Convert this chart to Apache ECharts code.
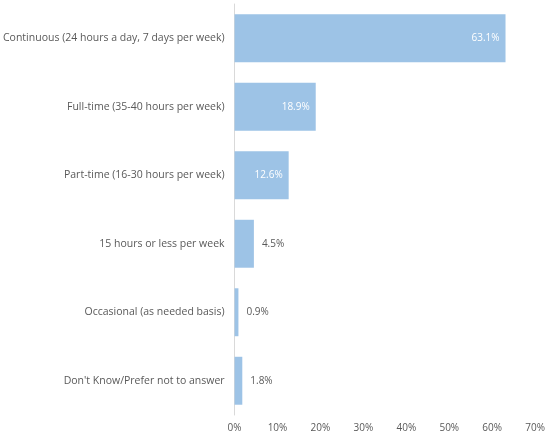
<!DOCTYPE html>
<html>
<head>
<meta charset="utf-8">
<script src="https://cdn.jsdelivr.net/npm/echarts@6/dist/echarts.min.js"></script>
<style>
  html, body { margin: 0; padding: 0; background: #fff; }
  #chart { width: 548px; height: 441px; }
</style>
</head>
<body>
<div id="chart"></div>
<script>
// categories top to bottom
const categories = [
  'Continuous (24 hours a day, 7 days per week)',
  'Full-time (35-40 hours per week)',
  'Part-time (16-30 hours per week)',
  '15 hours or less per week',
  'Occasional (as needed basis)',
  "Don't Know/Prefer not to answer"
]
const values = [63.1, 18.9, 12.6, 4.5, 0.9, 1.8]
// which labels sit inside the bar
const insideLabel = [true, true, true, false, false, false]

const textColor = '#595959'
const barColor = '#9dc3e6'
const font = 'Open Sans'

const chart = echarts.init(document.getElementById('chart'))

chart.setOption({
  animation: false,
  grid: { left: 234, right: 12, top: 4, bottom: 26, containLabel: false },
  xAxis: {
    type: 'value',
    min: 0,
    max: 70,
    interval: 10,
    axisLine: { show: false },
    axisTick: { show: false },
    splitLine: { show: false },
    axisLabel: {
      formatter: v => v + '%',
      color: textColor,
      fontFamily: font,
      fontSize: 10,
      margin: 8
    }
  },
  yAxis: {
    type: 'category',
    inverse: true,
    data: categories,
    axisLine: { show: true, lineStyle: { color: '#d9d9d9', width: 1 } },
    axisTick: { show: false },
    axisLabel: {
      color: textColor,
      fontFamily: font,
      fontSize: 10.5,
      margin: 10
    }
  },
  series: [{
    type: 'bar',
    barCategoryGap: '30%',
    itemStyle: { color: barColor },
    data: values.map((v, i) => ({
      value: v,
      label: insideLabel[i]
        ? { position: 'insideRight', color: '#ffffff', distance: 6 }
        : { position: 'right', color: textColor, distance: 8 }
    })),
    label: {
      show: true,
      fontFamily: font,
      fontSize: 10,
      formatter: p => p.value.toFixed(1) + '%'
    }
  }]
})
</script>
</body>
</html>
